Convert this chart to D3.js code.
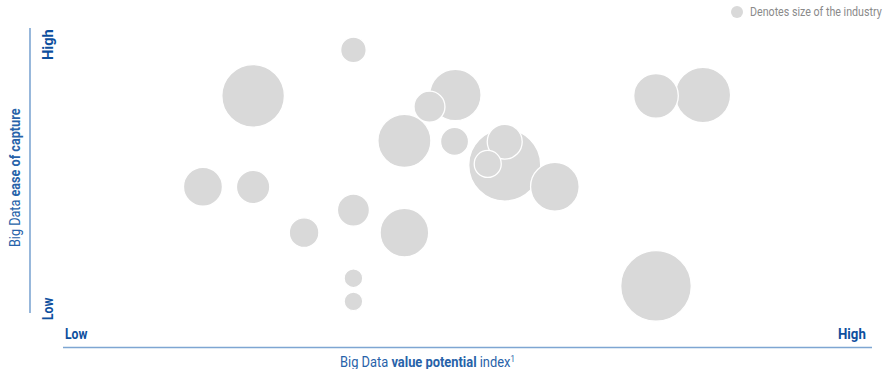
<!DOCTYPE html>
<html><head><meta charset="utf-8">
<script src="https://cdn.jsdelivr.net/npm/d3@7"></script>
<style>body{margin:0;background:#fff}svg{display:block}
text{font-family:"Roboto","Liberation Sans",sans-serif}</style>
</head><body><svg id="c" width="885" height="369"></svg>
<script>
// Industries: value potential index (x), ease of capture (y), relative industry size
const valuePotential = [35.9,23.5,17.3,23.5,35.9,29.8,42.2,42.2,35.9,35.9,48.5,45.3,48.4,54.6,54.6,52.5,60.8,73.3,79.1,73.3];
const easeOfCapture  = [92.3,76.2,44.3,44.2,36.1,28.2,28.2,60.4,12.2,4.1,76.5,72.4,60.2,51.9,60.1,52.3,44.3,76.2,76.5,9.5];
const industrySize   = [12.6,75.6,29.3,21.5,19.8,16.9,45.6,54.2,6.7,6.7,51,18.5,15.1,100,23.6,14.1,45.6,38.4,59.2,96.2];
const xTickLabels = ["Low","High"];
const yTickLabels = ["Low","High"];

const blue = "#0d4f9e", titleBlue = "#2762a9", lineBlue = "#7ea6d2", bubble = "#d9d9d9";
const svg = d3.select("#c");
const x = d3.scaleLinear().domain([0,100]).range([63,872]);
const y = d3.scaleLinear().domain([0,100]).range([313,28]);
const r = d3.scaleSqrt().domain([0,100]).range([0,36]);

const data = valuePotential.map((v,i)=>({x:v,y:easeOfCapture[i],s:industrySize[i]}))
  .sort((a,b)=>b.s-a.s);

svg.append("g").selectAll("circle").data(data).join("circle")
  .attr("cx",d=>x(d.x)).attr("cy",d=>y(d.y)).attr("r",d=>r(d.s))
  .attr("fill",bubble).attr("stroke","#fff").attr("stroke-width",1.3);

// axes lines
svg.append("line").attr("x1",30).attr("x2",30).attr("y1",y(100)).attr("y2",y(0))
  .attr("stroke",lineBlue).attr("stroke-width",1.6);
svg.append("line").attr("x1",x(0)).attr("x2",x(100)).attr("y1",347.5).attr("y2",347.5)
  .attr("stroke",lineBlue).attr("stroke-width",1.6);

// condensed text helper: place at (px,py) rotated by rot, start-anchored, squeezed to width w
function label(px,py,rot,w,size,color,bold,parts){
  const g = svg.append("g").attr("transform",`translate(${px},${py}) rotate(${rot})`);
  const t = g.append("text").attr("font-size",size).attr("fill",color)
    .attr("font-weight",bold?"bold":null);
  parts.forEach(p=>{
    const ts = t.append("tspan").text(p.t);
    if(p.b) ts.attr("font-weight","bold");
    if(p.sup) ts.attr("font-size",size*0.6).attr("dy",-size*0.38);
  });
  const len = t.node().getBBox().width;
  t.attr("transform",`scale(${w/len},1)`);
}

// x tick labels
label(65,339,0,23,14,blue,true,[{t:xTickLabels[0]}]);
label(838,339,0,28,14,blue,true,[{t:xTickLabels[1]}]);
// y tick labels
label(53,320,-90,23,14,blue,true,[{t:yTickLabels[0]}]);
label(53,60,-90,31,14,blue,true,[{t:yTickLabels[1]}]);

// axis titles
label(340,367,0,175,14,titleBlue,false,[{t:"Big Data "},{t:"value potential",b:true},{t:" index"},{t:"1",sup:true}]);
label(20,247,-90,139,14,titleBlue,false,[{t:"Big Data "},{t:"ease of capture",b:true}]);

// legend
svg.append("circle").attr("cx",737).attr("cy",12).attr("r",6).attr("fill",bubble);
label(750,15.5,0,132,12.5,"#8a8a8a",false,[{t:"Denotes size of the industry"}]);
</script></body></html>
